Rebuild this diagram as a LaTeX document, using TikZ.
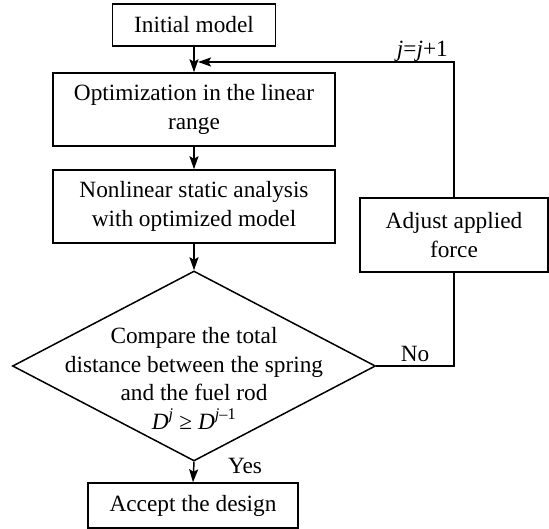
\documentclass[tikz,border=0pt]{standalone}
\usepackage{fontspec}
\setmainfont{Liberation Serif}
\usetikzlibrary{shapes.geometric,arrows.meta}
\begin{document}
\begin{tikzpicture}[x=1pt,y=-1pt,
  every node/.style={font=\fontsize{23.3}{28.5}\selectfont},
  box/.style={draw,line width=1.5pt,rectangle,inner sep=0pt,align=center},
  dec/.style={draw,line width=1.5pt,diamond,inner sep=0pt},
  conn/.style={line width=1.5pt},
  arr/.style={conn,-{Stealth[length=13pt,width=9pt,inset=2.5pt]}},
  lbl/.style={inner sep=0pt}]
\useasboundingbox (0,0) rectangle (549,529);
\node[box,minimum width=163pt,minimum height=42pt] (init) at (194,25) {Initial model};
\node[box,minimum width=282pt,minimum height=73pt] (opt) at (194,109.5) {Optimization in the linear\\range};
\node[box,minimum width=282pt,minimum height=73pt] (nl) at (194,206.5) {Nonlinear static analysis\\with optimized model};
\node[box,minimum width=188pt,minimum height=74pt] (adj) at (454,235) {Adjust applied\\force};
\node[dec,minimum width=363pt,minimum height=190pt] (cmp) at (194,366) {};
\node[lbl,align=center,anchor=base] (cmptext) at (194,429) {Compare the total\\distance between the spring\\and the fuel rod\\\textit{D}\textsuperscript{\textit{j}} ≥ \textit{D}\textsuperscript{\textit{j}–1}};
\node[box,minimum width=210pt,minimum height=45pt] (acc) at (193,505.5) {Accept the design};
\coordinate (corner) at (454,62);
\coordinate (merge) at (198,62);
\draw[arr] (init.south) -- (opt.north);
\draw[arr] (opt.south) -- (nl.north);
\draw[arr] (nl.south) -- (cmp.north);
\draw[arr] (cmp.south) -- (acc.north);
\draw[conn] (cmp.east) -| (adj.south);
\draw[arr] (adj.north) -- (corner) -- (merge);
\node[lbl,anchor=base east] (jlab) at (448,57) {\textit{j}=\textit{j}+1};
\node[lbl,anchor=base] (nolab) at (415,362) {No};
\node[lbl,anchor=base] (yeslab) at (245,473) {Yes};
\end{tikzpicture}
\end{document}
